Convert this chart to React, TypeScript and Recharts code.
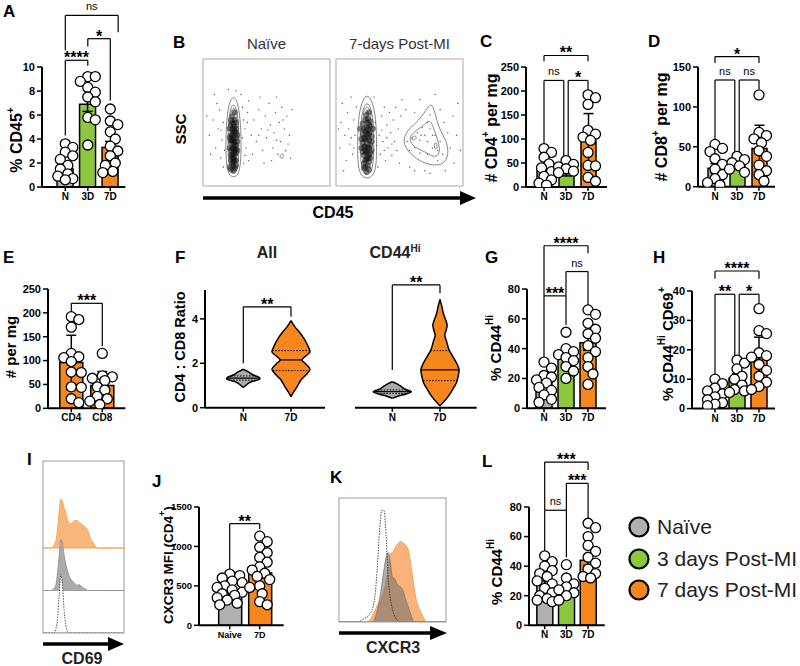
import React from 'react';
import {
  ComposedChart,
  Bar,
  Scatter,
  Area,
  XAxis,
  YAxis,
  ErrorBar,
  Cell,
  ReferenceLine,
} from 'recharts';

const FONT = "'Liberation Sans', Arial, Helvetica, sans-serif";
const GRAY = '#B0B0B0';
const GREEN = '#8DC63F';
const ORANGE = '#F7861C';
const C3 = [GRAY, GREEN, ORANGE];

// ---------- bar + dot panels ----------
const groupCats = ['N', '3D', '7D'];

// A: % CD45+
const aN = [3.6, 3.3, 2.9, 2.6, 2.3, 1.8, 1.5, 1.1, 0.9, 0.7, 0.6];
const a3 = [9.2, 9.2, 8.8, 8.3, 7.9, 7.5, 7.1, 5.8, 5.6, 3.5];
const a7 = [6.5, 5.5, 5.2, 4.6, 4.0, 3.4, 3.0, 2.6, 2.0, 1.8, 1.3, 1.2];
const aMeans = [1.5, 6.9, 3.3];
const aErrs = [0.35, 0.6, 0.5];

// C: # CD4+ per mg
const cN = [80, 72, 62, 48, 40, 32, 22, 15, 8, 4];
const c3 = [55, 47, 42, 38, 33, 30];
const c7 = [192, 186, 172, 118, 110, 104, 97, 72, 45, 44, 20, 12];
const cMeans = [35, 28, 96];
const cErrs = [9, 5, 57];

// D: # CD8+ per mg
const dN = [53, 48, 44, 35, 28, 22, 15, 10, 5, 2];
const d3 = [38, 34, 30, 26, 22, 18];
const d7 = [115, 68, 64, 60, 55, 45, 38, 27, 20, 15, 7];
const dMeans = [23, 27, 48];
const dErrs = [6, 4, 29];

// E: # per mg
const eCats = ['CD4', 'CD8'];
const eCD4 = [192, 186, 170, 115, 108, 106, 98, 76, 75, 45, 44, 20, 12];
const eCD8 = [115, 68, 66, 63, 58, 45, 38, 25, 20, 15, 8];
const eMeans = [96, 48];
const eErrs = [57, 29];

// G: % CD44Hi
const gN = [31, 27, 22, 21, 19, 17, 14, 12, 9, 6, 4];
const g3 = [51, 40, 38, 36, 34, 32, 28, 25, 20];
const g7 = [66, 63, 57, 53, 50, 47, 42, 38, 34, 28, 23, 16];
const gMeans = [18, 33, 44];
const gErrs = [2.5, 3, 5];

// H: % CD44Hi CD69+
const hN = [10, 8.5, 7, 6, 5, 4, 3, 2, 1.5, 1];
const h3 = [16.5, 15.5, 13.5, 11, 10, 8, 6.5, 6, 5.5];
const h7 = [34, 26.5, 25.5, 19, 18, 17.5, 15, 13, 11, 9, 7.5, 6.5];
const hMeans = [4.2, 10.3, 17.4];
const hErrs = [1, 1.5, 6.9];

// J: CXCR3 MFI (CD4+)
const jCats = ['Naive', '7D'];
const jN = [650, 630, 600, 560, 540, 500, 480, 450, 420, 400, 380, 350, 320, 280, 260];
const j7 = [1130, 1060, 990, 920, 860, 800, 740, 700, 660, 620, 580, 500, 480, 400, 300, 260];
const jMeans = [435, 663];
const jErrs = [40, 60];

// L: % CD44Hi
const lN = [47, 43, 40, 37, 35, 33, 30, 28, 25, 22, 20, 18, 17, 16];
const l3 = [41, 32, 28, 26, 24, 22, 20, 17];
const l7 = [69, 66, 60, 54, 50, 46, 42, 38, 35, 33, 32];
const lMeans = [30, 24, 44];
const lErrs = [3, 3, 3.5];

// ---------- violins (F) ----------
const allNy = [0.91, 1.02, 1.17, 1.28, 1.32, 1.37, 1.47, 1.62, 1.73];
const allNw = [0, 0.06, 0.17, 0.34, 0.35, 0.33, 0.21, 0.1, 0];
const allNq = [1.24, 1.33, 1.43];
const all7y = [0.5, 0.72, 0.95, 1.25, 1.47, 1.73, 1.97, 2.15, 2.33, 2.52, 2.75, 3.12, 3.42, 3.65, 3.92];
const all7w = [0, 0.06, 0.13, 0.21, 0.31, 0.4, 0.31, 0.23, 0.31, 0.4, 0.36, 0.27, 0.17, 0.08, 0];
const all7q = [1.67, 2.15, 2.57];
const hiNy = [0.42, 0.53, 0.62, 0.72, 0.83, 0.95, 1.07, 1.17];
const hiNw = [0, 0.13, 0.29, 0.4, 0.27, 0.19, 0.1, 0];
const hiNq = [0.64, 0.72, 0.8];
const hi7y = [0.08, 0.27, 0.5, 0.8, 1.1, 1.4, 1.7, 2.0, 2.3, 2.6, 2.97, 3.27, 3.5, 3.72, 3.95, 4.25, 4.55, 4.88];
const hi7w = [0, 0.08, 0.17, 0.26, 0.34, 0.38, 0.4, 0.35, 0.27, 0.19, 0.14, 0.1, 0.13, 0.15, 0.12, 0.07, 0.04, 0];
const hi7q = [1.22, 1.7, 2.57];

// ---------- histograms (I, K) ----------
const iX = [0, 8, 10, 12, 14, 16, 18, 20, 22, 24, 26, 28, 30, 32, 34, 36, 38, 40, 42, 44, 46, 48, 50, 52, 54, 56, 58, 60, 62, 64, 66, 68, 70, 100];
const iOrange = [0, 0, 0.01, 0.03, 0.08, 0.18, 0.45, 0.85, 1.15, 1.1, 0.95, 0.85, 0.68, 0.6, 0.57, 0.6, 0.64, 0.65, 0.65, 0.61, 0.59, 0.56, 0.53, 0.5, 0.45, 0.38, 0.25, 0.18, 0.12, 0.06, 0.02, 0, 0, 0];
const iGray = [0, 0, 0, 0.02, 0.06, 0.15, 0.42, 0.82, 1.2, 1.12, 0.84, 0.63, 0.48, 0.36, 0.28, 0.23, 0.19, 0.15, 0.12, 0.14, 0.12, 0.09, 0.06, 0.04, 0.01, 0, 0, 0, 0, 0, 0, 0, 0, 0];
const iIso = [0, 0, 0, 0, 0, 0.1, 0.35, 0.9, 1.38, 1.15, 0.55, 0.2, 0.04, 0, 0, 0, 0, 0, 0, 0, 0, 0, 0, 0, 0, 0, 0, 0, 0, 0, 0, 0, 0, 0];

const kX = [0, 18, 20, 22, 24, 26, 28, 30, 32, 34, 36, 38, 40, 42, 44, 46, 48, 50, 52, 54, 56, 58, 60, 62, 64, 66, 68, 70, 72, 74, 76, 78, 80, 82, 84, 100];
const kOrange = [0, 0, 0, 0, 0, 0, 0.01, 0.03, 0.065, 0.1, 0.14, 0.17, 0.2, 0.25, 0.33, 0.44, 0.55, 0.56, 0.59, 0.62, 0.64, 0.65, 0.64, 0.62, 0.6, 0.53, 0.41, 0.29, 0.19, 0.13, 0.09, 0.05, 0.02, 0, 0, 0];
const kGray = [0, 0, 0, 0, 0, 0, 0, 0, 0, 0.04, 0.1, 0.19, 0.3, 0.42, 0.52, 0.56, 0.48, 0.36, 0.35, 0.31, 0.29, 0.28, 0.25, 0.19, 0.14, 0.09, 0.04, 0, 0, 0, 0, 0, 0, 0, 0, 0];
const kIso = [0, 0, 0.01, 0.02, 0.03, 0.04, 0.06, 0.08, 0.13, 0.24, 0.47, 0.75, 0.9, 0.9, 0.7, 0.35, 0.19, 0.1, 0.05, 0.02, 0, 0, 0, 0, 0, 0, 0, 0, 0, 0, 0, 0, 0, 0, 0, 0];

// ---------- flow plots (B) ----------
const naiveDots = [[5,40],[8,52],[10,30],[12,45],[13,60],[14,22],[15,36],[16,50],[11,65],[33,45],[34,30],[35,58],[36,20],[38,40],[31,62],[32,18],[40,52],[42,35],[44,60],[46,45],[47,28],[49,55],[50,38],[52,65],[53,48],[55,30],[56,42],[57,58],[59,25],[60,50],[61,35],[62,62],[64,45],[65,28],[66,55],[68,40],[69,22],[70,60],[58,70],[45,70],[54,20],[48,18],[3,55],[6,25],[9,72],[30,72],[26,75],[20,76],[36,67],[39,25],[17,28],[16,15],[32,52],[31,38],[14,44],[33,24],[35,50],[51,44],[58,36],[63,52],[67,33],[44,40]];
const naiveCore = [[21,15],[22,20],[23,25],[24,30],[25,35],[26,20],[22,40],[24,45],[26,50],[21,30],[27,28],[23,18],[25,14],[22,48],[24,38],[26,42],[23,55],[25,24],[21,38],[27,35],[22,28],[24,22],[26,32],[23,44],[25,47],[24,16],[22,34],[26,26],[23,36],[25,52],[24,12],[22,24],[26,38],[23,30],[25,20],[24,26],[22,52],[25,58],[26,45],[21,45],[27,40],[22,13],[26,16],[24,34],[24,42],[23,50],[25,28],[22,36],[26,29],[24,19],[23,22],[25,43],[24,49],[23,40],[25,32]];
const postDots = [[3,30],[4,50],[5,65],[7,40],[8,20],[9,58],[10,45],[11,33],[12,70],[13,25],[14,52],[15,40],[34,40],[35,25],[36,55],[37,35],[38,62],[39,20],[40,48],[41,30],[42,58],[43,42],[44,24],[45,52],[46,35],[47,62],[48,28],[49,45],[50,18],[51,55],[52,68],[55,60],[58,15],[62,58],[66,68],[70,12],[78,72],[82,60],[85,50],[88,42],[90,30],[92,55],[93,18],[95,40],[96,65],[98,28],[62,12],[74,10],[86,12],[30,70],[33,15],[2,45],[6,12],[16,62],[31,50],[32,32],[80,20],[67,40],[72,35],[76,40],[56,35],[60,38],[64,42],[68,46],[72,50],[74,56],[70,40],[66,36],[62,30],[58,28],[76,30],[80,28],[82,35],[78,40],[84,25],[72,25],[66,26],[74,45],[36,44],[40,38],[44,33],[38,28],[12,38],[14,30]];
const postCore = [[22,14],[23,20],[24,26],[25,31],[26,36],[27,22],[21,41],[24,46],[27,51],[20,30],[28,28],[22,18],[26,13],[21,49],[25,39],[27,43],[24,56],[26,24],[20,37],[28,35],[21,27],[24,21],[27,32],[22,45],[26,48],[25,16],[21,34],[27,26],[23,37],[25,53],[24,11],[22,24],[28,39],[23,31],[26,19],[24,27],[29,45],[19,45],[23,52],[26,58],[25,44],[22,38],[27,47],[23,15],[26,30],[24,35],[24,41],[22,31],[26,41],[25,22],[23,28],[25,50],[23,43]];
const naiveLoops = [
  [[24,71],[27,67],[29,56],[30,40],[30,24],[29,13],[27,8],[24,7],[21,8],[19,13],[18,24],[18,40],[19,56],[21,67]],
  [[24,65],[26.5,61],[28,50],[28.5,35],[28,20],[26.5,11],[24,10],[21.5,11],[20,20],[19.5,35],[20,50],[21.5,61]],
  [[24,62],[26,59],[26.5,52],[24,47],[21.5,52],[22,59]],
  [[24,59],[25,57.5],[24,55],[23,57.5]],
  [[62,26],[64,24],[62,21],[60,23]],
];
const postLoops = [
  [[24.5,72],[28,68],[31,57],[32,40],[32,22],[31,12],[28,7],[24.5,6],[21,7],[18,12],[17,22],[17,40],[18,57],[21,68]],
  [[24.5,66],[27.5,62],[29.5,50],[30,35],[29.5,18],[27.5,10],[24.5,9],[21.5,10],[19.5,18],[19,35],[19.5,50],[21.5,62]],
  [[24.5,63],[27,60],[28,53],[24.5,46],[21,53],[22,60]],
  [[24.5,60],[25.8,58],[24.5,55],[23.2,58]],
  [[53,38],[58,46],[65,51],[71,60],[75,66],[78,58],[81,45],[87,36],[89,25],[85,17],[76,16],[67,19],[60,24],[54,31]],
  [[57,38],[63,44],[70,48],[74,53],[77,45],[81,34],[82,26],[78,22],[72,26],[65,29],[60,32]],
  [[59,38],[62,40],[64,38],[61,35.5]],
  [[77,33],[79,35],[80,30],[78,28]],
];

type Bracket = { a: number; b: number; y: number; la: number; lb: number; t: string };

const aBr: Bracket[] = [
  { a: 0, b: 1, y: 10.56, la: 4.3, lb: 10.1, t: '****' },
  { a: 1, b: 2, y: 12.36, la: 11.7, lb: 7.2, t: '*' },
  { a: 0, b: 2.35, y: 14.3, la: 11.4, lb: 12.9, t: 'ns' },
];
const cBr: Bracket[] = [
  { a: 0, b: 2, y: 274, la: 262, lb: 262, t: '**' },
  { a: 0, b: 0.9, y: 222, la: 91, lb: 62, t: 'ns' },
  { a: 1.1, b: 2, y: 222, la: 62, lb: 201, t: '*' },
];
const dBr: Bracket[] = [
  { a: 0, b: 2, y: 163, la: 155, lb: 155, t: '*' },
  { a: 0, b: 0.9, y: 133.7, la: 58, lb: 43, t: 'ns' },
  { a: 1.1, b: 2, y: 133.7, la: 43, lb: 122, t: 'ns' },
];
const eBr: Bracket[] = [{ a: 0, b: 1, y: 220, la: 203, lb: 130, t: '***' }];
const gBr: Bracket[] = [
  { a: 0, b: 2, y: 109, la: 75.4, lb: 104, t: '****' },
  { a: 1, b: 2, y: 91.7, la: 75.4, lb: 69.3, t: 'ns' },
  { a: 0, b: 1, y: 75.4, la: 34.6, lb: 55.9, t: '***' },
];
const hBr: Bracket[] = [
  { a: 0, b: 2, y: 46.8, la: 44.2, lb: 44.2, t: '****' },
  { a: 0, b: 0.9, y: 38.9, la: 10.9, lb: 18.1, t: '**' },
  { a: 1.1, b: 2, y: 38.9, la: 18.1, lb: 35.7, t: '*' },
];
const jBr: Bracket[] = [{ a: 0, b: 1, y: 1289, la: 697, lb: 1217, t: '**' }];
const lBr: Bracket[] = [
  { a: 0, b: 2, y: 110.4, la: 78, lb: 105, t: '***' },
  { a: 1, b: 2, y: 96, la: 78, lb: 72, t: '***' },
  { a: 0, b: 1, y: 77.8, la: 50, lb: 46, t: 'ns' },
];
const allBr: Bracket[] = [{ a: 0, b: 1, y: 4.54, la: 2.0, lb: 4.09, t: '**' }];
const hiBr: Bracket[] = [{ a: 0, b: 1, y: 5.53, la: 1.7, lb: 5.15, t: '**' }];

// beeswarm layout: returns horizontal pixel offsets per value
function swarm(vals: number[], pxY: number, r: number, lim: number): number[] {
  const idx = vals.map((_, i) => i).sort((p, q) => vals[q] - vals[p]);
  const placed: { x: number; y: number }[] = [];
  const out = vals.map(() => 0);
  const minD = r * 1.6;
  for (const i of idx) {
    const y = -vals[i] * pxY;
    let best = 0;
    let bestCost = Infinity;
    for (let k = 0; k <= 14; k++) {
      const c = (k % 2 === 1 ? 1 : -1) * Math.ceil(k / 2) * 2.5;
      if (Math.abs(c) > lim) continue;
      let cost = 0;
      for (const p of placed) {
        const d = Math.hypot(p.x - c, p.y - y);
        if (d < minD) cost += minD - d;
      }
      if (cost < bestCost - 1e-6) {
        bestCost = cost;
        best = c;
      }
      if (cost === 0) break;
    }
    placed.push({ x: best, y });
    out[i] = best;
  }
  return out;
}

const Dot = (props: any) => (
  <circle cx={props.cx} cy={props.cy} r={5} fill="#fff" stroke="#000" strokeWidth={1.3} />
);

function bracketLines(brs: Bracket[], key: string) {
  const out: React.ReactNode[] = [];
  brs.forEach((b, k) => {
    const isNs = b.t === 'ns';
    out.push(
      <ReferenceLine
        key={`${key}h${k}`}
        segment={[{ x: b.a, y: b.y }, { x: b.b, y: b.y }]}
        stroke="#000"
        strokeWidth={1.2}
        ifOverflow="visible"
        label={{
          value: b.t,
          position: 'top',
          offset: isNs ? 5 : -3,
          fontSize: isNs ? 11 : 16,
          fontWeight: isNs ? 400 : 700,
          fill: '#000',
          fontFamily: FONT,
        }}
      />,
      <ReferenceLine key={`${key}l${k}`} segment={[{ x: b.a, y: b.y }, { x: b.a, y: b.la }]} stroke="#000" strokeWidth={1.2} ifOverflow="visible" />,
      <ReferenceLine key={`${key}r${k}`} segment={[{ x: b.b, y: b.y }, { x: b.b, y: b.lb }]} stroke="#000" strokeWidth={1.2} ifOverflow="visible" />,
    );
  });
  return out;
}

type BarCfg = {
  x0: number; yTop: number; yBase: number; xEnd: number; c0: number; step: number;
  max: number; ticks: number[]; cats: string[]; means: number[]; errs: number[];
  pts: number[][]; colors: string[]; barW: number; brs: Bracket[]; xFont?: number; yFont?: number;
};

function BarPanel(p: BarCfg) {
  const YW = 40, MT = 74, MR = 4, XH = 24;
  const plotH = p.yBase - p.yTop;
  const width = YW + (p.xEnd - p.x0) + MR;
  const height = MT + plotH + XH;
  const xDomain = [(p.x0 - p.c0) / p.step, (p.xEnd - p.c0) / p.step];
  const pxY = plotH / p.max;
  const rows = p.cats.map((_, i) => ({ x: i, mean: p.means[i], err: p.errs[i] }));
  const dots = p.pts.flatMap((vals, i) => {
    const dx = swarm(vals, pxY, 5, p.barW / 2 + 1);
    return vals.map((v, k) => ({ x: i + dx[k] / p.step, y: v }));
  });
  return (
    <div style={{ position: 'absolute', left: p.x0 - YW, top: p.yTop - MT }}>
      <ComposedChart width={width} height={height} data={rows} margin={{ top: MT, right: MR, bottom: 0, left: 0 }}>
        <XAxis
          type="number"
          dataKey="x"
          domain={xDomain}
          allowDataOverflow
          ticks={p.cats.map((_, i) => i)}
          interval={0}
          tickFormatter={(v: number) => p.cats[Math.round(v)]}
          height={XH}
          axisLine={{ stroke: '#000', strokeWidth: 2 }}
          tickLine={{ stroke: '#000', strokeWidth: 1.5 }}
          tickSize={4}
          tick={{ fill: '#000', fontSize: p.xFont ?? 10, fontWeight: 700, fontFamily: FONT }}
        />
        <XAxis xAxisId="dots" type="number" dataKey="x" domain={xDomain} allowDataOverflow hide />
        <YAxis
          type="number"
          domain={[0, p.max]}
          allowDataOverflow
          ticks={p.ticks}
          interval={0}
          width={YW}
          axisLine={{ stroke: '#000', strokeWidth: 2 }}
          tickLine={{ stroke: '#000', strokeWidth: 1.5 }}
          tickSize={5}
          tick={{ fill: '#000', fontSize: p.yFont ?? 11, fontWeight: 700, fontFamily: FONT }}
        />
        <Bar dataKey="mean" barSize={p.barW} stroke="#000" strokeWidth={1.5} isAnimationActive={false}>
          {rows.map((_, i) => (
            <Cell key={i} fill={p.colors[i]} />
          ))}
          <ErrorBar dataKey="err" width={5} stroke="#000" strokeWidth={1.5} direction="y" isAnimationActive={false} />
        </Bar>
        <Scatter xAxisId="dots" data={dots} dataKey="y" shape={Dot} isAnimationActive={false} />
        {bracketLines(p.brs, 'b')}
      </ComposedChart>
    </div>
  );
}

// ---------- violin panel ----------
type Profile = { key: string; center: number; ys: number[]; ws: number[]; q: number[]; fill: string };

function halfAt(ys: number[], ws: number[], y: number) {
  for (let i = 1; i < ys.length; i++) {
    if (y <= ys[i]) {
      const t = (y - ys[i - 1]) / (ys[i] - ys[i - 1]);
      return ws[i - 1] + t * (ws[i] - ws[i - 1]);
    }
  }
  return 0;
}

type ViolinCfg = {
  x0: number; yTop: number; yBase: number; xEnd: number; c0: number; step: number;
  max: number; showY: boolean; profiles: Profile[]; brs: Bracket[];
};

function ViolinPanel(p: ViolinCfg) {
  const YW = p.showY ? 30 : 0, MT = 40, MR = 4, XH = 24;
  const plotH = p.yBase - p.yTop;
  const width = YW + (p.xEnd - p.x0) + MR;
  const height = MT + plotH + XH;
  const xDomain = [(p.x0 - p.c0) / p.step, (p.xEnd - p.c0) / p.step];
  const rows: any[] = [];
  p.profiles.forEach((pr) =>
    pr.ys.forEach((y, i) => {
      const row: any = { y };
      p.profiles.forEach((o) => {
        row[o.key] = o.key === pr.key ? [pr.center - pr.ws[i], pr.center + pr.ws[i]] : [null, null];
      });
      rows.push(row);
    }),
  );
  return (
    <div style={{ position: 'absolute', left: p.x0 - YW, top: p.yTop - MT }}>
      <ComposedChart layout="vertical" width={width} height={height} data={rows} margin={{ top: MT, right: MR, bottom: 0, left: 0 }}>
        <XAxis
          type="number"
          domain={xDomain}
          allowDataOverflow
          ticks={[0, 1]}
          interval={0}
          tickFormatter={(v: number) => ['N', '7D'][Math.round(v)]}
          height={XH}
          axisLine={{ stroke: '#000', strokeWidth: 2 }}
          tickLine={{ stroke: '#000', strokeWidth: 1.5 }}
          tickSize={4}
          tick={{ fill: '#000', fontSize: 10, fontWeight: 700, fontFamily: FONT }}
        />
        <YAxis
          type="number"
          dataKey="y"
          reversed
          domain={[0, p.max]}
          allowDataOverflow
          ticks={[0, 2, 4]}
          interval={0}
          hide={!p.showY}
          width={YW}
          axisLine={{ stroke: '#000', strokeWidth: 2 }}
          tickLine={{ stroke: '#000', strokeWidth: 1.5 }}
          tickSize={5}
          tick={{ fill: '#000', fontSize: 11, fontWeight: 700, fontFamily: FONT }}
        />
        {p.profiles.map((pr) => (
          <Area
            key={pr.key}
            dataKey={pr.key}
            type="monotone"
            fill={pr.fill}
            fillOpacity={1}
            stroke="#000"
            strokeWidth={1.5}
            isAnimationActive={false}
          />
        ))}
        {p.profiles.flatMap((pr) =>
          pr.q.map((qy, k) => {
            const w = halfAt(pr.ys, pr.ws, qy);
            return (
              <ReferenceLine
                key={`${pr.key}q${k}`}
                segment={[{ x: pr.center - w, y: qy }, { x: pr.center + w, y: qy }]}
                stroke="#000"
                strokeWidth={k === 1 ? 1.2 : 1}
                strokeDasharray={k === 1 ? undefined : '1.5 1.5'}
                ifOverflow="visible"
              />
            );
          }),
        )}
        {bracketLines(p.brs, 'v')}
      </ComposedChart>
    </div>
  );
}

// ---------- flow plot ----------
const FlowDot = (props: any) => <circle cx={props.cx} cy={props.cy} r={0.7} fill="#555" />;
const CoreDot = (props: any) => <circle cx={props.cx} cy={props.cy} r={3} fill="#111" fillOpacity={0.55} />;
const NoDot = () => <g />;

function FlowPanel({ left, top, dots, core, loops }: { left: number; top: number; dots: number[][]; core: number[][]; loops: number[][][] }) {
  const toXY = (a: number[][]) => a.map(([x, y]) => ({ x, y }));
  return (
    <div style={{ position: 'absolute', left, top }}>
      <ComposedChart width={127} height={127} margin={{ top: 0, right: 0, bottom: 0, left: 0 }}>
        <XAxis type="number" dataKey="x" domain={[0, 100]} hide />
        <YAxis type="number" domain={[0, 100]} hide />
        <Scatter data={toXY(dots)} dataKey="y" shape={FlowDot} isAnimationActive={false} />
        <Scatter data={toXY(core)} dataKey="y" shape={CoreDot} isAnimationActive={false} />
        {loops.map((lp, i) => (
          <Scatter
            key={i}
            data={toXY(lp)}
            dataKey="y"
            shape={NoDot}
            line={{ stroke: '#555', strokeWidth: 0.7, fill: 'none' }}
            lineJointType="basisClosed"
            isAnimationActive={false}
          />
        ))}
      </ComposedChart>
    </div>
  );
}

function RotTitle({ cx, cy, size, children }: { cx: number; cy: number; size: number; children: React.ReactNode }) {
  return (
    <text
      transform={`translate(${cx},${cy}) rotate(-90)`}
      textAnchor="middle"
      dominantBaseline="central"
      fontWeight={700}
      fontSize={size}
      fill="#000"
    >
      {children}
    </text>
  );
}

export default function App() {
  const iRows = iX.map((x, i) => ({ x, o: iOrange[i], g: iGray[i], u: iIso[i] }));
  const kRows = kX.map((x, i) => ({ x, o: kOrange[i], g: kGray[i], u: kIso[i] }));
  const letters: [string, number, number][] = [
    ['A', 3, 17], ['B', 173, 48], ['C', 480, 47], ['D', 648, 47],
    ['E', 3, 263], ['F', 175, 263], ['G', 485, 263], ['H', 653, 263],
    ['I', 27, 465], ['J', 152, 487], ['K', 330, 483], ['L', 482, 467],
  ];
  const legend: [string, string, number][] = [
    ['Naïve', GRAY, 527],
    ['3 days Post-MI', GREEN, 559],
    ['7 days Post-MI', ORANGE, 590],
  ];
  return (
    <div style={{ position: 'absolute', left: 0, top: 0, width: 800, height: 666, background: '#fff', overflow: 'hidden', fontFamily: FONT }}>
      <BarPanel x0={41.7} yTop={66.7} yBase={186.7} xEnd={125} c0={65} step={22.5} max={10} ticks={[0, 2, 4, 6, 8, 10]}
        cats={groupCats} means={aMeans} errs={aErrs} pts={[aN, a3, a7]} colors={C3} barW={16} brs={aBr} />
      <BarPanel x0={526} yTop={66.7} yBase={186.7} xEnd={607} c0={544} step={22} max={250} ticks={[0, 50, 100, 150, 200, 250]}
        cats={groupCats} means={cMeans} errs={cErrs} pts={[cN, c3, c7]} colors={C3} barW={15} brs={cBr} />
      <BarPanel x0={698} yTop={67} yBase={186.7} xEnd={775} c0={715} step={22} max={150} ticks={[0, 50, 100, 150]}
        cats={groupCats} means={dMeans} errs={dErrs} pts={[dN, d3, d7]} colors={C3} barW={15} brs={dBr} />
      <BarPanel x0={47.7} yTop={289} yBase={408.3} xEnd={125} c0={71} step={31} max={250} ticks={[0, 50, 100, 150, 200, 250]}
        cats={eCats} means={eMeans} errs={eErrs} pts={[eCD4, eCD8]} colors={[ORANGE, ORANGE]} barW={23} brs={eBr} />
      <BarPanel x0={527} yTop={289} yBase={408.3} xEnd={606} c0={544} step={22} max={80} ticks={[0, 20, 40, 60, 80]}
        cats={groupCats} means={gMeans} errs={gErrs} pts={[gN, g3, g7]} colors={C3} barW={16} brs={gBr} />
      <BarPanel x0={692} yTop={290.7} yBase={408.3} xEnd={775} c0={715} step={22} max={40} ticks={[0, 10, 20, 30, 40]}
        cats={groupCats} means={hMeans} errs={hErrs} pts={[hN, h3, h7]} colors={C3} barW={16} brs={hBr} />
      <BarPanel x0={199.3} yTop={506.7} yBase={625} xEnd={284} c0={230} step={30} max={1500} ticks={[0, 500, 1000, 1500]}
        cats={jCats} means={jMeans} errs={jErrs} pts={[jN, j7]} colors={[GRAY, ORANGE]} barW={23} brs={jBr} xFont={9} yFont={9.5} />
      <BarPanel x0={529.3} yTop={506.7} yBase={625} xEnd={605} c0={545} step={21.7} max={80} ticks={[0, 20, 40, 60, 80]}
        cats={groupCats} means={lMeans} errs={lErrs} pts={[lN, l3, l7]} colors={C3} barW={16} brs={lBr} />

      <ViolinPanel x0={205} yTop={290} yBase={407.7} xEnd={325} c0={243.3} step={47.7} max={5.3} showY
        profiles={[
          { key: 'n', center: 0, ys: allNy, ws: allNw, q: allNq, fill: '#ABABAB' },
          { key: 'd', center: 1, ys: all7y, ws: all7w, q: all7q, fill: ORANGE },
        ]}
        brs={allBr} />
      <ViolinPanel x0={355} yTop={290} yBase={407.7} xEnd={476.7} c0={392.3} step={47.7} max={5.3} showY={false}
        profiles={[
          { key: 'n', center: 0, ys: hiNy, ws: hiNw, q: hiNq, fill: '#ABABAB' },
          { key: 'd', center: 1, ys: hi7y, ws: hi7w, q: hi7q, fill: ORANGE },
        ]}
        brs={hiBr} />

      <FlowPanel left={203} top={59} dots={naiveDots} core={naiveCore} loops={naiveLoops} />
      <FlowPanel left={336} top={59} dots={postDots} core={postCore} loops={postLoops} />

      {/* I: CD69 histograms */}
      <div style={{ position: 'absolute', left: 43, top: 461 }}>
        <ComposedChart width={81} height={172} data={iRows} margin={{ top: 0, right: 0, bottom: 0, left: 0 }}>
          <XAxis type="number" dataKey="x" domain={[0, 100]} hide />
          <YAxis type="number" domain={[0, 4.05]} allowDataOverflow hide />
          <Area dataKey={(r: any) => [2, 2 + r.o]} type="monotone" fill="#F9B67A" fillOpacity={1} stroke="#F5A862" strokeWidth={1} isAnimationActive={false} />
          <Area dataKey={(r: any) => [1, 1 + r.g]} type="monotone" fill="#ABABAB" fillOpacity={1} stroke="#999" strokeWidth={1} isAnimationActive={false} />
          <Area dataKey={(r: any) => [0, r.u]} type="monotone" fill="#fff" fillOpacity={1} stroke="#333" strokeWidth={0.8} strokeDasharray="1.5 1.2" isAnimationActive={false} />
        </ComposedChart>
      </div>

      {/* K: CXCR3 histograms */}
      <div style={{ position: 'absolute', left: 339, top: 498 }}>
        <ComposedChart width={107} height={124} data={kRows} margin={{ top: 0, right: 0, bottom: 0, left: 0 }}>
          <XAxis type="number" dataKey="x" domain={[0, 100]} hide />
          <YAxis type="number" domain={[0, 1]} allowDataOverflow hide />
          <Area dataKey="o" type="monotone" fill="#F9B37A" fillOpacity={1} stroke="#F4A35E" strokeWidth={1} isAnimationActive={false} />
          <Area dataKey="g" type="monotone" fill="#6E6E6E" fillOpacity={0.55} stroke="#777" strokeWidth={0.8} isAnimationActive={false} />
          <Area dataKey="u" type="monotone" fill="none" stroke="#222" strokeWidth={0.8} strokeDasharray="1.5 1.2" isAnimationActive={false} />
        </ComposedChart>
      </div>

      <svg width={800} height={666} style={{ position: 'absolute', left: 0, top: 0, pointerEvents: 'none' }} fontFamily={FONT}>
        {letters.map(([t, x, y]) => (
          <text key={t} x={x} y={y} fontSize={17} fontWeight={700} fill="#000">{t}</text>
        ))}

        {/* B frame, titles, axis */}
        <rect x={203} y={59} width={127} height={127} fill="none" stroke="#aaa" strokeWidth={1} />
        <rect x={336} y={59} width={127} height={127} fill="none" stroke="#aaa" strokeWidth={1} />
        <text x={266.5} y={49} textAnchor="middle" fontSize={15} fill="#333">Naïve</text>
        <text x={399.5} y={49} textAnchor="middle" fontSize={15} fill="#333">7-days Post-MI</text>
        <line x1={203} y1={198} x2={462} y2={198} stroke="#000" strokeWidth={3.5} />
        <polygon points="460,191 476,198 460,205" fill="#000" />
        <text x={333} y={218} textAnchor="middle" fontSize={16} fontWeight={700}>CD45</text>
        <RotTitle cx={180} cy={129} size={15}>SSC</RotTitle>

        {/* axis titles */}
        <RotTitle cx={16} cy={140} size={16}>% CD45<tspan dy={-6} fontSize={10}>+</tspan></RotTitle>
        <RotTitle cx={491} cy={128} size={16}>
          # CD4<tspan dy={-6} fontSize={10}>+</tspan><tspan dy={6}> per mg</tspan>
        </RotTitle>
        <RotTitle cx={661} cy={127} size={16}>
          # CD8<tspan dy={-6} fontSize={10}>+</tspan><tspan dy={6}> per mg</tspan>
        </RotTitle>
        <RotTitle cx={10} cy={347} size={15}># per mg</RotTitle>
        <RotTitle cx={180} cy={347} size={14.5}>CD4 : CD8 Ratio</RotTitle>
        <RotTitle cx={495} cy={348} size={15}>% CD44<tspan dy={-6} fontSize={10}>Hi</tspan></RotTitle>
        <RotTitle cx={667} cy={344} size={15}>
          % CD44<tspan dy={-6} fontSize={10}>Hi</tspan><tspan dy={6}> CD69</tspan><tspan dy={-6} fontSize={10}>+</tspan>
        </RotTitle>
        <RotTitle cx={168} cy={565} size={13.5}>
          CXCR3 MFI (CD4<tspan dy={-6} fontSize={9}>+</tspan><tspan dy={6}>)</tspan>
        </RotTitle>
        <RotTitle cx={496} cy={572} size={15}>% CD44<tspan dy={-6} fontSize={10}>Hi</tspan></RotTitle>

        {/* F column titles */}
        <text x={267} y={258} textAnchor="middle" fontSize={16} fontWeight={700} fill="#222">All</text>
        <text x={395} y={258} textAnchor="middle" fontSize={16} fontWeight={700} fill="#222">
          CD44<tspan dy={-6} fontSize={10}>Hi</tspan>
        </text>

        {/* I frame + axis */}
        <rect x={43} y={461} width={81} height={172} fill="none" stroke="#999" strokeWidth={1} />
        <line x1={43} y1={644} x2={110} y2={644} stroke="#000" strokeWidth={3.5} />
        <polygon points="108,637 124,644 108,651" fill="#000" />
        <text x={82} y={664} textAnchor="middle" fontSize={16} fontWeight={700} fill="#222">CD69</text>

        {/* K frame + axis */}
        <rect x={339} y={498} width={107} height={124} fill="none" stroke="#999" strokeWidth={1} />
        <line x1={339} y1={633} x2={432} y2={633} stroke="#000" strokeWidth={3.5} />
        <polygon points="430,626 447,633 430,640" fill="#000" />
        <text x={393} y={653} textAnchor="middle" fontSize={16} fontWeight={700} fill="#222">CXCR3</text>

        {/* legend */}
        {legend.map(([t, c, y]) => (
          <g key={t}>
            <circle cx={639} cy={y} r={9.5} fill={c} stroke="#000" strokeWidth={2.2} />
            <text x={657} y={y + 7} fontSize={21} fill="#222">{t}</text>
          </g>
        ))}
      </svg>
    </div>
  );
}
